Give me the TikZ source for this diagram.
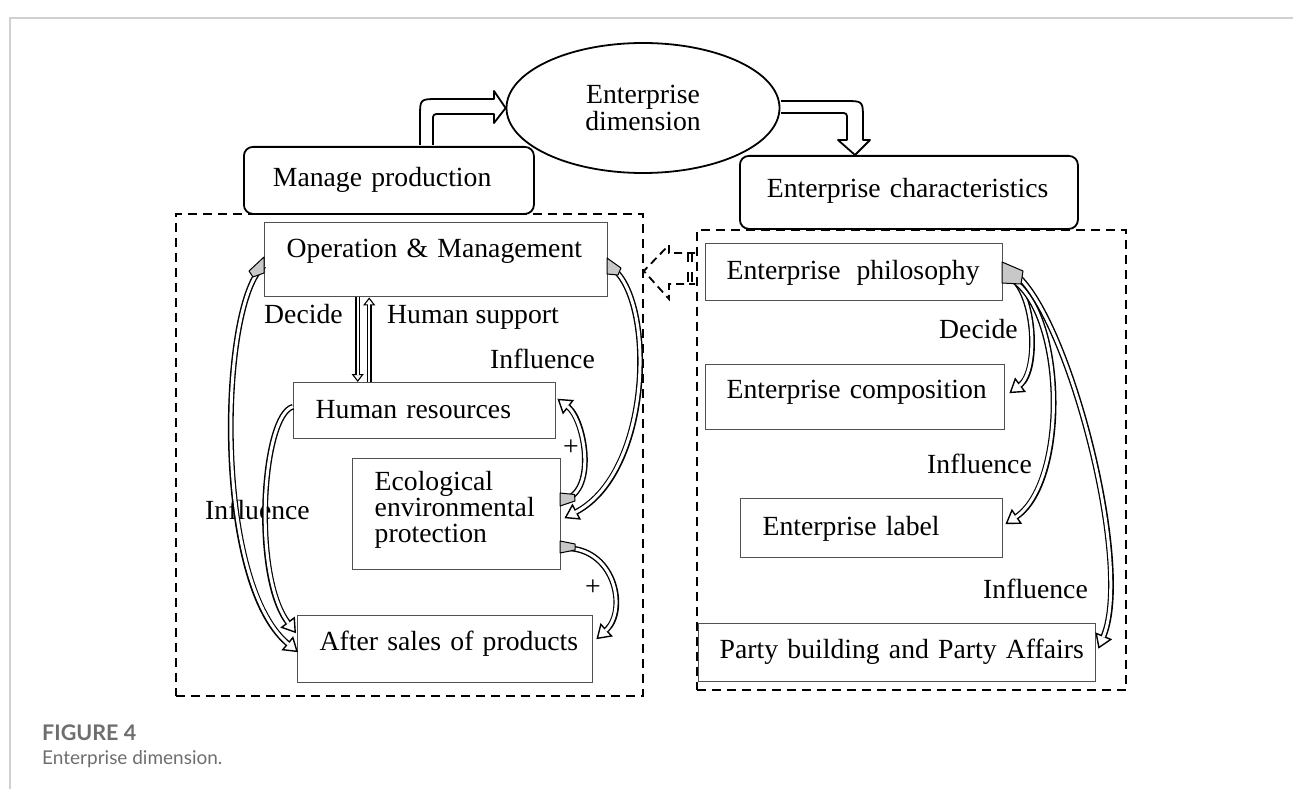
\documentclass[tikz,border=0pt]{standalone}
\usepackage{fontspec}
\setmainfont{Liberation Serif}
\newfontfamily\capfont{Lato}
\usetikzlibrary{arrows.meta,shapes.geometric,calc}
\definecolor{boxgray}{HTML}{505050}
\definecolor{capgray}{HTML}{6E6E6E}
\definecolor{framegray}{HTML}{D0D0D0}
\definecolor{wedgegray}{HTML}{C8C8C8}
\tikzset{
  txt/.style={font=\fontsize{27.7}{26}\selectfont, text=black},
  bx/.style={txt, draw=boxgray, line width=1.4pt, fill=white, inner sep=0pt, anchor=north west, align=left},
  rbx/.style={bx, draw=black, line width=1.8pt, rounded corners=9pt},
  dbox/.style={draw=black, line width=1.8pt, dash pattern=on 9pt off 6pt},
  lbl/.style={txt, inner sep=0pt, anchor=base west},
  carr/.style={draw=black, line width=5.8pt, -{Triangle[open, length=14pt, width=18pt, line width=1.4pt]},
     postaction={draw=white, line width=3pt, -, shorten >=12.5pt}},
  sarr/.style={draw=black, line width=4.6pt, -{Triangle[open, length=8pt, width=12pt, line width=1.1pt]},
     postaction={draw=white, line width=2.4pt, -, shorten >=7pt}},
  blk/.style={draw=black, line width=1.8pt, fill=white, line join=round},
  wedge/.style={fill=wedgegray, draw=black, line width=1pt, line join=round},
}
\begin{document}
\begin{tikzpicture}[x=1pt, y=-1pt]
\useasboundingbox (0,0) rectangle (1293,789);
% frame lines
\draw[framegray, line width=1.5pt] (1293,18) -- (10,18) -- (10,789);

% dashed group boxes
\node[dbox, inner sep=0pt, anchor=north west, minimum width=467pt, minimum height=482pt] (lbox) at (175,213) {};
\node[dbox, inner sep=0pt, anchor=north west, minimum width=429pt, minimum height=460pt] (rbox) at (696,229) {};

% top level
\node[txt, draw=black, line width=1.8pt, ellipse, fill=white, minimum width=273pt, minimum height=130pt,
      inner sep=0pt, align=center, font=\fontsize{27.7}{24}\selectfont] (ed) at (643,108) {Enterprise\\dimension};
\node[rbx, text width=290pt, text height=40pt, text depth=27pt] (mp) at (243,146) {\hspace*{29pt}Manage production};
\node[rbx, text width=338pt, text height=42pt, text depth=31pt] (ec) at (739,155) {\hspace*{27pt}Enterprise characteristics};

% block arrows
\draw[blk] ($(mp.north west)+(177,-1)$) -- (420,117) .. controls (420,99) .. (438,99) -- (494,99) -- (494,91)
   -- (ed.west) -- (494,123) -- (494,114) -- (440,114) .. controls (433,114) .. (433,121) -- ($(mp.north west)+(190,-1)$);
\draw[blk] (781,101) -- (845,101) .. controls (863,101) .. (863,119) -- (863,140) -- (870,140)
   -- ($(ec.north west)+(116,0)$) -- (838,140) -- (847,140) -- (847,120) .. controls (847,113) .. (840,113) -- (781,113);

% dashed connector between groups
\draw[dbox, dash pattern=on 8pt off 5pt] ($(rbox.north west)+(-1,24)$) -- (669,253) -- (669,245) -- (lbox.east |- 0,271)
   -- (669,299) -- (669,284) -- ($(rbox.north west)+(-1,55)$);
\draw[line width=1.4pt] (688,252) -- (688,262) (692,252) -- (692,262) (688,272) -- (688,282) (692,272) -- (692,282);

% left group boxes
\node[bx, text width=343pt, text height=35pt, text depth=39pt] (opm) at (264,222) {\hspace*{22pt}Operation \& Management};
\node[bx, text width=262pt, text height=36pt, text depth=20pt] (hr) at (293,382) {\hspace*{22pt}Human resources};
\node[bx, text width=208pt, text height=32pt, text depth=79pt] (eco) at (352,458)
  {\hspace*{22pt}Ecological\\\hspace*{22pt}environmental\\\hspace*{22pt}protection};
\node[bx, text width=295pt, text height=35pt, text depth=32pt] (as) at (297,615) {\hspace*{22pt}After sales of products};

% right group boxes
\node[bx, text width=297pt, text height=36pt, text depth=21pt] (ph) at (705,243) {\hspace*{21pt}Enterprise\hspace{16pt}philosophy};
\node[bx, text width=299pt, text height=34pt, text depth=31pt] (co) at (705,364) {\hspace*{21pt}Enterprise composition};
\node[bx, text width=262pt, text height=37pt, text depth=22pt] (lb) at (740,498) {\hspace*{22pt}Enterprise label};
\node[bx, text width=397pt, text height=35pt, text depth=23pt] (pa) at (698,623) {\hspace*{21pt}Party building and Party Affairs};

% labels
\node[lbl] (l1) at (264,323) {Decide};
\node[lbl] (l2) at (387,323) {Human support};
\node[lbl] (l3) at (490,368) {Influence};
\node[lbl] (l4) at (205,519) {Influence};
\node[txt, inner sep=0pt, anchor=base] (p1) at (571,455) {+};
\node[txt, inner sep=0pt, anchor=base] (p2) at (593,595) {+};
\node[lbl] (l5) at (939,338) {Decide};
\node[lbl] (l6) at (927,473) {Influence};
\node[lbl] (l7) at (983,598) {Influence};

% small double arrows
\draw[sarr] ($(opm.south)+(-78.5,0)$) -- ($(hr.north)+(-67,0)$);
\draw[sarr] ($(hr.north)+(-55.5,0)$) -- ($(opm.south)+(-67,0)$);

% curved hollow arrows (left group)
\draw[carr] ($(opm.west)+(0,6)$) .. controls (220,300) and (212,580) .. ($(as.west)+(1,3)$);
\draw[carr] ($(hr.west)+(0,-4)$) .. controls (262,415) and (252,575) .. ($(as.west)+(-1,-16)$);
\draw[carr] ($(opm.east)+(0,6)$) .. controls (655,290) and (655,470) .. ($(eco.east)+(3,4)$);
\draw[carr] ($(eco.east)+(0,-14)$) .. controls (598,495) and (585,420) .. ($(hr.east)+(1,-12)$);
\draw[carr] ($(eco.east)+(0,34)$) .. controls (615,545) and (628,610) .. ($(as.east)+(3,-10)$);
\draw[wedge] (264,257) -- (264,273) -- (253,277) -- (249,271) -- cycle;
\draw[wedge] (607,258) -- (607,274) -- (618,275) -- (621,268) -- cycle;
\draw[wedge] (560,493) -- (560,506) -- (575,501) -- (574.5,494.5) -- cycle;
\draw[wedge] (560,541) -- (560,553) -- (575,550) -- (575,544) -- cycle;

% curved hollow arrows (right group)
\draw[carr] ($(ph.east)+(2,2)$) .. controls (1035,285) and (1040,370) .. ($(co.east)+(4,-4)$);
\draw[carr] ($(ph.east)+(2,4)$) .. controls (1065,300) and (1070,480) .. ($(lb.east)+(2,-4)$);
\draw[carr] ($(ph.east)+(2,-4)$) .. controls (1060,285) and (1135,560) .. ($(pa.east)+(2,-4)$);
\draw[wedge] (1002,262) -- (1002,283) -- (1021,284) -- (1023,271) -- cycle;

% caption
\node[anchor=base west, inner sep=0pt, font=\capfont\bfseries\fontsize{21.5}{24}\selectfont, text=capgray] (fig) at (42,740) {FIGURE 4};
\node[anchor=base west, inner sep=0pt, font=\capfont\fontsize{19}{22}\selectfont, text=capgray] (cap) at (42,764) {Enterprise dimension.};
\end{tikzpicture}
\end{document}
